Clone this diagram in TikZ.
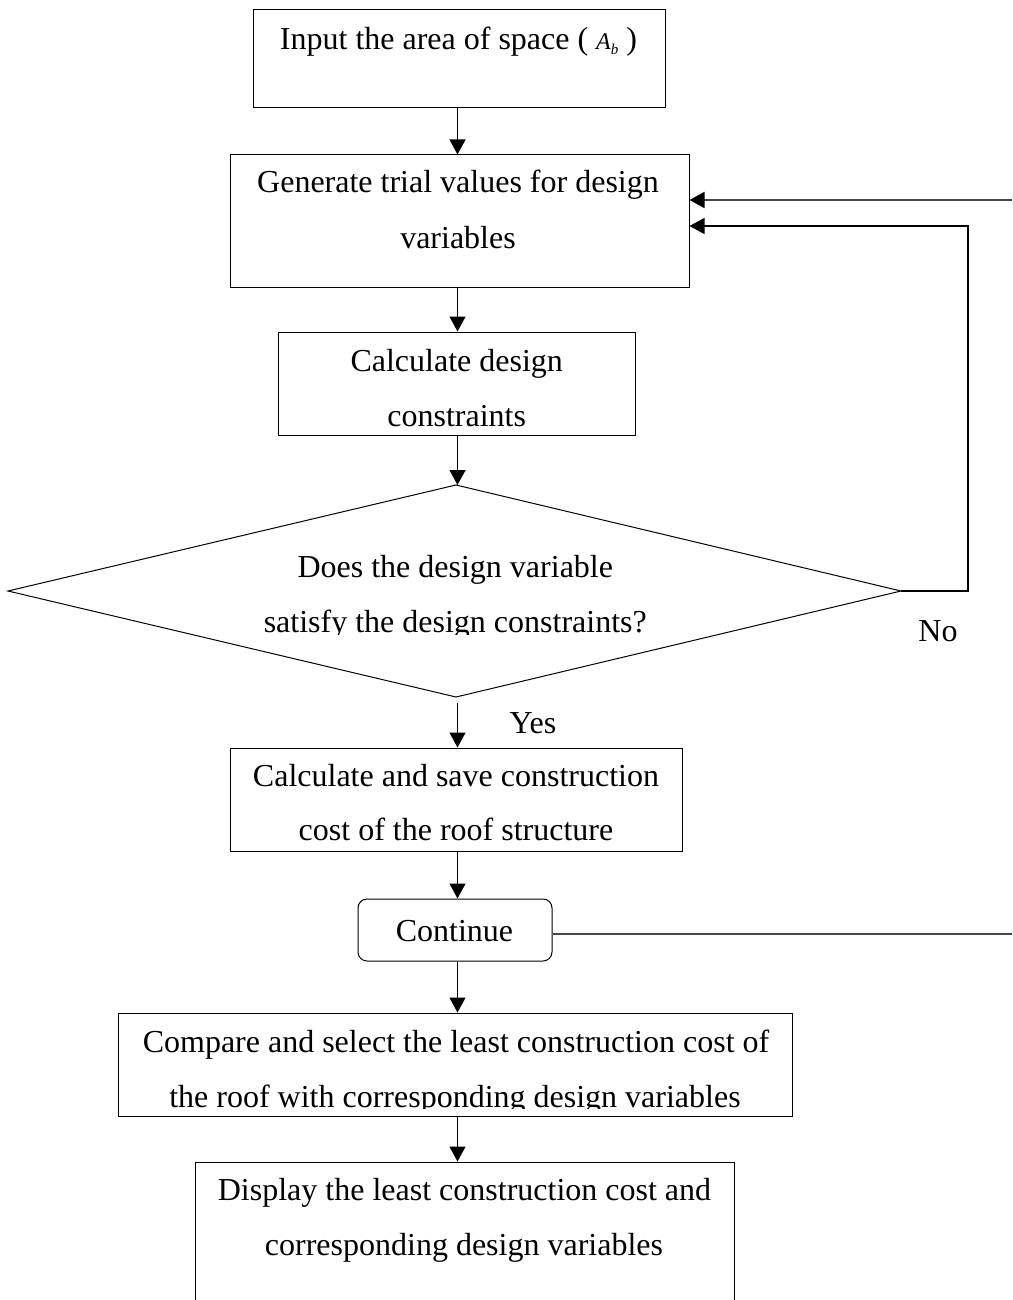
\documentclass[tikz,border=0pt]{standalone}
\usepackage{fontspec}
\setmainfont{Liberation Serif}
\usetikzlibrary{arrows.meta}
\begin{document}
\begin{tikzpicture}[x=1pt,y=-1pt,
  box/.style={draw, line width=1pt, inner sep=0pt, rectangle},
  txt/.style={inner sep=0pt, anchor=base, font=\fontsize{32}{55}\selectfont},
  flow/.style={draw, line width=1.2pt, -{Triangle[length=15pt,width=16pt]}},
  grayline/.style={draw=black!72, line width=1.7pt}]
\useasboundingbox (0,0) rectangle (1012,1300);
\clip (0,0) rectangle (1012,1300);
\fill[white] (0,0) rectangle (1012,1300);

% column for vertical connectors
\coordinate (colx) at (457.5,0);

% boxes
\node[box, minimum width=412pt, minimum height=98pt] (b1) at (459,59) {};
\node[box, minimum width=459pt, minimum height=132pt] (b2) at (459.5,221) {};
\node[box, minimum width=357pt, minimum height=103pt] (b3) at (456.5,383.5) {};
\coordinate (dtop) at (456,485);
\coordinate (dleft) at (8,591);
\coordinate (dright) at (901,591);
\coordinate (dbot) at (456,697);
\draw[line width=1pt] (dtop) -- (dright) -- (dbot) -- (dleft) -- cycle;
\node[box, minimum width=452pt, minimum height=103pt] (b4) at (456,799.5) {};
\node[box, rounded corners=9pt, minimum width=194pt, minimum height=62pt] (cont) at (455,930) {};
\node[box, minimum width=674pt, minimum height=103pt] (b5) at (455,1064.5) {};
\node[box, minimum width=539pt, minimum height=160pt] (b6) at (464.5,1242) {};

% texts
\node[txt] (t1) at (458.5,50) {Input the area of space ( {\fontsize{24}{24}\selectfont\itshape A\raisebox{-5pt}{\fontsize{15}{15}\selectfont b}} )};
\node[txt] (t2a) at (458,193) {Generate trial values for design};
\node[txt] (t2b) at (458,248) {variables};
\node[txt] (t3a) at (456.7,371) {Calculate design};
\node[txt] (t3b) at (456.7,426) {constraints};
\node[txt] (td1) at (455.3,577) {Does the design variable};
\begin{scope}
\clip (0,480) rectangle (1012,634.5);
\node[txt] (td2) at (455.3,632) {satisfy the design constraints?};
\end{scope}
\node[txt] (tno) at (938,641) {No};
\node[txt] (tyes) at (533,733) {Yes};
\node[txt] (t4a) at (456,786) {Calculate and save construction};
\node[txt] (t4b) at (456,840) {cost of the roof structure};
\node[txt] (tcont) at (454.5,941) {Continue};
\node[txt] (t5a) at (456,1052) {Compare and select the least construction cost of};
\begin{scope}
\clip (0,1060) rectangle (1012,1108.5);
\node[txt] (t5b) at (455,1107) {the roof with corresponding design variables};
\end{scope}
\node[txt] (t6a) at (464.5,1200) {Display the least construction cost and};
\node[txt] (t6b) at (464,1255) {corresponding design variables};

% vertical connectors
\draw[flow] (b1.south -| colx) -- (b2.north -| colx);
\draw[flow] (b2.south -| colx) -- (b3.north -| colx);
\draw[flow] (b3.south -| colx) -- (dtop -| colx);
\draw[flow, shorten <=6pt] (dbot -| colx) -- (b4.north -| colx);
\draw[flow] (b4.south -| colx) -- (cont.north -| colx);
\draw[flow] (cont.south -| colx) -- (b5.north -| colx);
\draw[flow] (b5.south -| colx) -- (b6.north -| colx);

% "No" loop
\coordinate (nocorner) at (968,591);
\draw[flow] (dright) -- (nocorner) |- ([yshift=-5pt]b2.east);

% loop from Continue (runs off the right edge)
\coordinate (rin) at (1012,200);
\coordinate (rout) at (1012,934);
\draw[grayline, -{Triangle[length=15pt,width=16pt,color=black]}] (rin) -- ([yshift=21pt]b2.east);
\draw[grayline] ([yshift=-4pt]cont.east) -- (rout);
\end{tikzpicture}
\end{document}
